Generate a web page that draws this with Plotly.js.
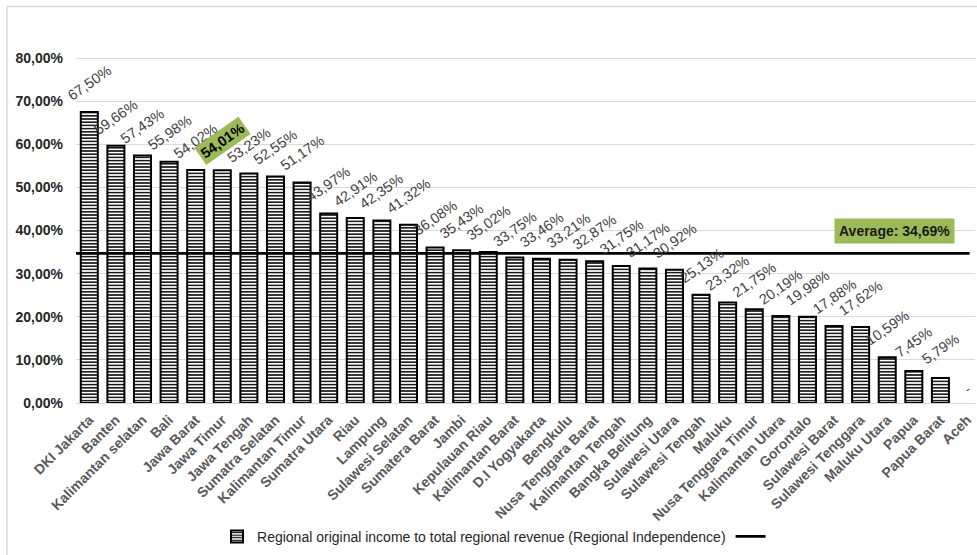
<!DOCTYPE html>
<html>
<head>
<meta charset="utf-8">
<script src="https://cdn.plot.ly/plotly-3.0.1.min.js"></script>
<style>html,body{margin:0;padding:0;background:#fff;}#chart{width:977px;height:555px;}</style>
</head>
<body>
<div id="chart"></div>
<script>
const provinces = ["DKI Jakarta","Banten","Kalimantan selatan","Bali","Jawa Barat","Jawa Timur","Jawa Tengah","Sumatra Selatan","Kalimantan Timur","Sumatra Utara","Riau","Lampung","Sulawesi Selatan","Sumatera Barat","Jambi","Kepulauan Riau","Kalimantan Barat","D.I Yogyakarta","Bengkulu","Nusa Tenggara Barat","Kalimantan Tengah","Bangka Belitung","Sulawesi Utara","Sulawesi Tengah","Maluku","Nusa Tenggara Timur","Kalimantan Utara","Gorontalo","Sulawesi Barat","Sulawesi Tenggara","Maluku Utara","Papua","Papua Barat","Aceh"];
const independence = [0.6750,0.5966,0.5743,0.5598,0.5402,0.5401,0.5323,0.5255,0.5117,0.4397,0.4291,0.4235,0.4132,0.3608,0.3543,0.3502,0.3375,0.3346,0.3321,0.3287,0.3175,0.3117,0.3092,0.2513,0.2332,0.2175,0.2019,0.1998,0.1788,0.1762,0.1059,0.0745,0.0579,null];
const averageValue = 0.3469;
const yTickVals = [0,0.1,0.2,0.3,0.4,0.5,0.6,0.7,0.8];
const yTickText = ["0,00%","10,00%","20,00%","30,00%","40,00%","50,00%","60,00%","70,00%","80,00%"];
const highlighted = "Jawa Timur";
const seriesName = "Regional original income to total regional revenue (Regional Independence)";

function fmt(v){ return (v*100).toFixed(2).replace('.', ',') + '%'; }
const FONT = 'Arial, Liberation Sans, sans-serif';

const barTrace = {
  type: 'bar', x: provinces, y: independence, name: seriesName,
  width: 0.64,
  marker: {color: '#ffffff', line: {color: '#000000', width: 2},
    pattern: {shape: '-', fgcolor: '#000000', bgcolor: '#ffffff', size: 3.2, solidity: 0.45}},
  hoverinfo: 'x+y'
};
const avgTrace = {
  type: 'scatter', mode: 'lines', x: [0, 0.994], y: [averageValue, averageValue],
  xaxis: 'x2', name: ' ', line: {color: '#000000', width: 2.8}, hoverinfo: 'skip'
};

const annotations = [];
provinces.forEach((p, i) => {
  const v = independence[i];
  if (v === null) {
    annotations.push({x: p, y: 0, text: '-', showarrow: false, yshift: 14, textangle: -35,
      font: {family: FONT, size: 14, color: '#404040'}});
    return;
  }
  const hl = p === highlighted;
  annotations.push({
    x: p, y: v, text: hl ? '<b>' + fmt(v) + '</b>' : fmt(v), showarrow: false,
    yshift: 29, textangle: -35,
    bgcolor: hl ? '#9BBB59' : 'rgba(0,0,0,0)', borderpad: hl ? 2 : 0,
    font: {family: FONT, size: 14.5, color: hl ? '#000000' : '#404040'}
  });
});
annotations.push({
  xref: 'paper', yref: 'y', x: 0.911, xanchor: 'center', y: averageValue, yshift: 22, showarrow: false,
  text: '<b>Average: ' + fmt(averageValue) + '</b>', bgcolor: '#9BBB59', borderpad: 4,
  font: {family: FONT, size: 14, color: '#1a1a1a'}
});

const layout = {
  width: 977, height: 555,
  margin: {l: 76, r: 2, t: 15, b: 150},
  paper_bgcolor: '#ffffff', plot_bgcolor: '#ffffff',
  showlegend: true,
  legend: {orientation: 'h', x: 0.47, xanchor: 'center', y: -0.345, yanchor: 'middle',
    font: {family: FONT, size: 14, color: '#262626'},
    itemwidth: 30, tracegroupgap: 0},
  xaxis: {type: 'category', range: [-0.5, 33.3], tickangle: -45, showgrid: false, zeroline: false,
    showline: false, ticks: '', automargin: false, ticklabelstandoff: 5,
    tickfont: {family: FONT, size: 14, color: '#595959', weight: 'bold'}},
  xaxis2: {overlaying: 'x', range: [0, 1], visible: false, fixedrange: true},
  yaxis: {range: [0, 0.9], tickvals: yTickVals, ticktext: yTickText,
    showgrid: true, gridcolor: '#d9d9d9', gridwidth: 1, zeroline: true, zerolinecolor: '#d9d9d9',
    showline: false, ticks: '', automargin: false, ticklabelstandoff: 12,
    tickfont: {family: FONT, size: 14, color: '#262626', weight: 'bold'}},
  annotations: annotations,
  shapes: [
    {type: 'line', xref: 'paper', yref: 'paper', x0: -0.0768, x1: 1.01, y0: 1.0218, y1: 1.0218,
      line: {color: '#d9d9d9', width: 1.5}},
    {type: 'line', xref: 'paper', yref: 'paper', x0: -0.0768, x1: -0.0768, y0: 1.0218, y1: -0.4,
      line: {color: '#d9d9d9', width: 1.5}}
  ]
};

Plotly.newPlot('chart', [barTrace, avgTrace], layout, {displayModeBar: false, staticPlot: true});
</script>
</body>
</html>
